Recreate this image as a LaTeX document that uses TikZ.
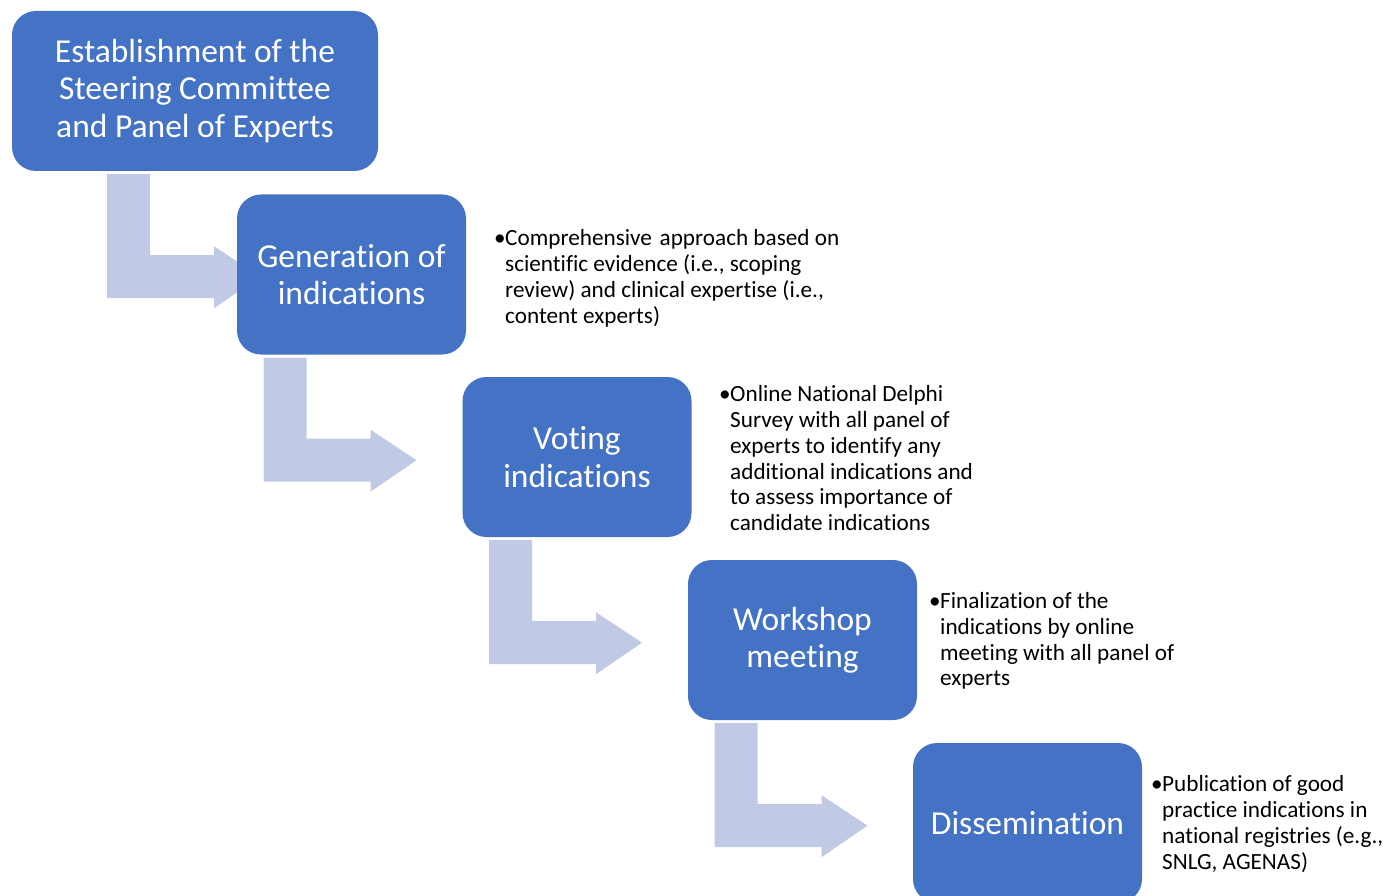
\documentclass[tikz,border=0pt]{standalone}
\usepackage{fontspec}
\setmainfont{Carlito}[Ligatures=CommonOff]
\usetikzlibrary{calc}
\definecolor{boxblue}{HTML}{4472C4}
\definecolor{arrowblue}{HTML}{C0CAE4}
\tikzset{
  stepbox/.style={fill=boxblue, draw=none, rounded corners=24pt, inner sep=0pt,
    minimum width=229pt, minimum height=160pt, align=center, text=white,
    font=\fontsize{33.5}{37.3}\selectfont},
  desc/.style={anchor=west, inner sep=0pt, text=black, font=\fontsize{23.2}{25.8}\selectfont},
  bentarrow/.style={fill=arrowblue, draw=none}
}
\newcommand{\bentarr}[1]{%
  \fill[bentarrow] ($(#1.south)+(-88,3)$) -- ($(#1.south)+(-45,3)$) -- ($(#1.south)+(-45,84)$)
   -- ($(#1.south)+(19,84)$) -- ($(#1.south)+(19,75)$) -- ($(#1.south)+(65,105.5)$)
   -- ($(#1.south)+(19,137)$) -- ($(#1.south)+(19,127)$) -- ($(#1.south)+(-88,127)$) -- cycle;}
\newcommand{\bul}{\hspace*{-2pt}•}
\begin{document}
\begin{tikzpicture}[x=1pt,y=-1pt]
\useasboundingbox (0,0) rectangle (1386,896);
\clip (0,0) rectangle (1386,896);
% placeholders so the arrows can be drawn beneath the boxes
\path (195,91) node[stepbox, minimum width=366pt, fill=none] (p1) {};
\path (351.5,274.5) node[stepbox, fill=none] (p2) {};
\path (577,457) node[stepbox, fill=none] (p3) {};
\path (802.5,640) node[stepbox, fill=none] (p4) {};
\bentarr{p1}
\bentarr{p2}
\bentarr{p3}
\bentarr{p4}
\node[stepbox, minimum width=366pt] (b1) at (195,91) {Establishment of the\\Steering Committee\\and Panel of Experts};
\node[stepbox] (b2) at (351.5,274.5) {Generation of\\indications};
\node[stepbox] (b3) at (577,457) {Voting\\indications};
\node[stepbox] (b4) at (802.5,640) {Workshop\\meeting};
\node[stepbox] (b5) at (1027.5,823) {Dissemination};
\node[desc] (d2) at (496,279.5) {\begin{tabular}{@{}p{9pt}@{}l@{}}\bul&Comprehensive\,\,approach based on\\&scientific evidence (i.e., scoping\\&review) and clinical expertise (i.e.,\\&content experts)\end{tabular}};
\node[desc] (d3) at (721,461) {\begin{tabular}{@{}p{9pt}@{}l@{}}\bul&Online National Delphi\\&Survey with all panel of\\&experts to identify any\\&additional indications and\\&to assess importance of\\&candidate indications\end{tabular}};
\node[desc] (d4) at (931,642) {\begin{tabular}{@{}p{9pt}@{}l@{}}\bul&Finalization of the\\&indications by online\\&meeting with all panel of\\&experts\end{tabular}};
\node[desc] (d5) at (1153,825.5) {\begin{tabular}{@{}p{9pt}@{}l@{}}\bul&Publication of good\\&practice indications in\\&national registries (e.g.,\\&SNLG, AGENAS)\end{tabular}};
\end{tikzpicture}
\end{document}
